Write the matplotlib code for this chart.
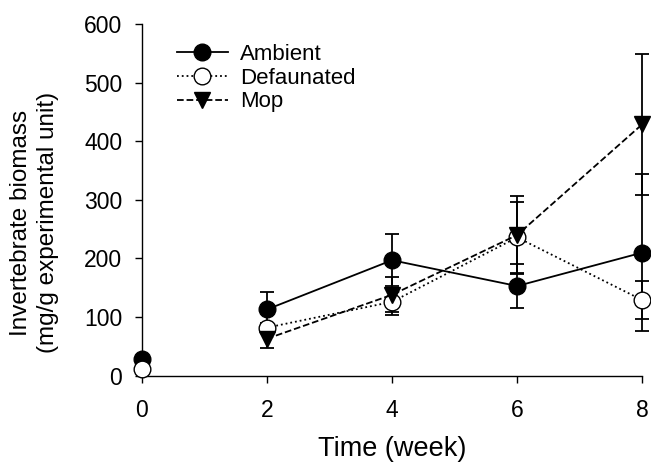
import matplotlib
matplotlib.use("Agg")
import matplotlib.pyplot as plt
from matplotlib.lines import Line2D

plt.rcParams['font.family'] = ['Liberation Sans', 'DejaVu Sans']

# week-0 baseline values (not connected to the later series)
week0 = [0]
ambient_w0 = [28]
defaunated_w0 = [12]

weeks = [2, 4, 6, 8]
ambient = [113, 197, 153, 210]
ambient_err = [30, 44, 37, 134]

defaunated = [82, 126, 236, 129]
defaunated_err = [8, 22, 60, 32]

mop = [63, 138, 240, 429]
mop_err = [16, 30, 67, 120]

xticks = [0, 2, 4, 6, 8]
yticks = [0, 100, 200, 300, 400, 500, 600]

fig = plt.figure(figsize=(6.51, 4.62), dpi=100)
ax = fig.add_axes([0.2177, 0.1868, 0.7689, 0.7612])

ms = 12
lw = 1.3
common = dict(color='black', ecolor='black', elinewidth=lw, capsize=5,
              capthick=lw, markersize=ms, clip_on=False, zorder=3)
ax.errorbar(weeks, ambient, yerr=ambient_err, fmt='-o', lw=lw,
            markerfacecolor='black', markeredgecolor='black', **common)
ax.errorbar(weeks, defaunated, yerr=defaunated_err, fmt=':o', lw=lw,
            markerfacecolor='white', markeredgecolor='black', **common)
ax.errorbar(weeks, mop, yerr=mop_err, fmt='--v', lw=lw,
            markerfacecolor='black', markeredgecolor='black', **common)

ax.plot(week0, ambient_w0, 'o', color='black', markersize=ms, clip_on=False, zorder=4)
ax.plot(week0, defaunated_w0, 'o', markerfacecolor='white', markeredgecolor='black',
        markersize=ms, clip_on=False, zorder=5)

ax.set_xlim(0, 8)
ax.set_ylim(0, 600)
ax.set_xticks(xticks)
ax.set_yticks(yticks)
ax.tick_params(direction='out', length=5, width=1, labelsize=16.5)
ax.tick_params(axis='x', pad=12)
ax.tick_params(axis='y', pad=9)
for s in ['top', 'right']:
    ax.spines[s].set_visible(False)
ax.spines['left'].set_linewidth(1)
ax.spines['bottom'].set_linewidth(1)

ax.set_xlabel('Time (week)', fontsize=19.5, labelpad=10)
ax.set_ylabel('Invertebrate biomass\n(mg/g experimental unit)', fontsize=17.5,
              linespacing=1.25)
ax.yaxis.set_label_coords(-0.166, 0.435)

handles = [
    Line2D([], [], color='black', ls='-', lw=lw, marker='o', markersize=ms,
           markerfacecolor='black', markeredgecolor='black'),
    Line2D([], [], color='black', ls=':', lw=lw, marker='o', markersize=ms,
           markerfacecolor='white', markeredgecolor='black'),
    Line2D([], [], color='black', ls='--', lw=lw, marker='v', markersize=ms,
           markerfacecolor='black', markeredgecolor='black'),
]
labels = ['Ambient', 'Defaunated', 'Mop']
ax.legend(handles, labels, loc='upper left', bbox_to_anchor=(0.07, 0.943),
          frameon=False, fontsize=16, handlelength=2.3, handletextpad=0.55,
          labelspacing=0.12, borderaxespad=0, borderpad=0)

fig.savefig('out.png', dpi=100, facecolor='white')
